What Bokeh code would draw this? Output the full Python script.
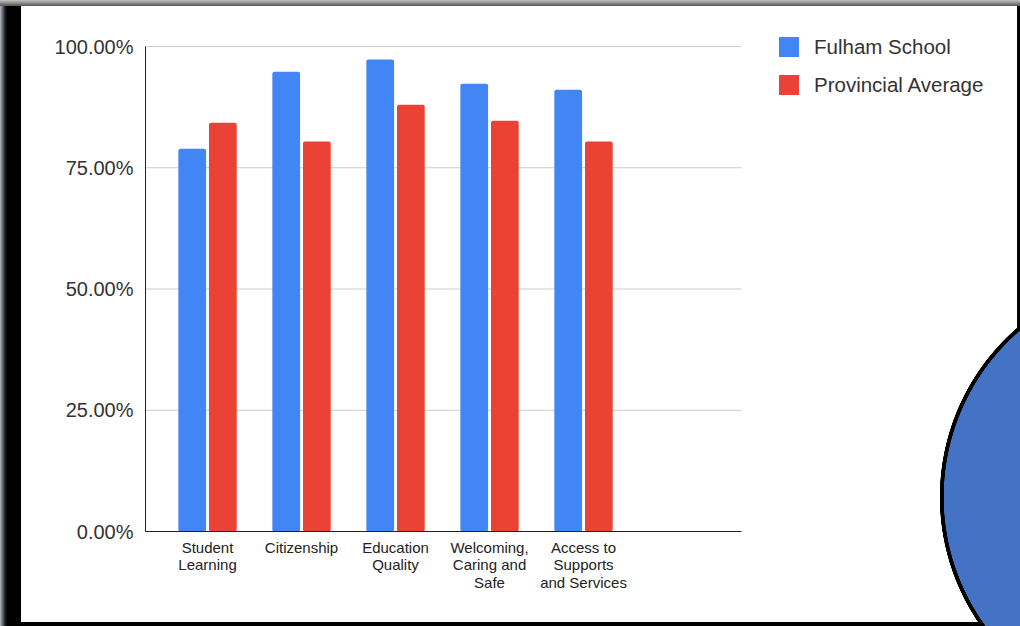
from bokeh.plotting import figure
from bokeh.models import (ColumnDataSource, FixedTicker, Legend, LegendItem, Range1d)
from bokeh.embed import file_html
from bokeh.resources import INLINE

# ---- data ----
categories = ["Student\nLearning", "Citizenship", "Education\nQuality",
              "Welcoming,\nCaring and\nSafe", "Access to\nSupports\nand Services"]
fulham_school = [78.9, 94.8, 97.3, 92.3, 91.1]
provincial_average = [84.3, 80.4, 88.0, 84.7, 80.4]
y_ticks = [0, 25, 50, 75, 100]
y_tick_labels = ["0.00%", "25.00%", "50.00%", "75.00%", "100.00%"]
series_names = ["Fulham School", "Provincial Average"]

BLUE = "#4285F4"
RED = "#EA4335"
FONT = "Liberation Sans"

W, H = 1020, 626
FL, FR, FT, FB = 145, 1017, 20, 531      # frame edges on canvas
PX_X = 94.0                               # pixels per category step
PX_Y = 4.85                               # pixels per percentage point
X0 = -0.66                                # left end of the category axis
X_AXIS_END = 5.68                         # right end of the drawn axis / grid
x_end = X0 + (FR - FL) / PX_X
y_end = 100 + (FB - FT - 100 * PX_Y) / PX_Y

xs = list(range(len(categories)))
src = ColumnDataSource(dict(
    xb=[x - 0.163 for x in xs], xr=[x + 0.163 for x in xs],
    fs=fulham_school, pa=provincial_average))

# slide decorations behind the transparent canvas (pure CSS background)
slide_bg = ", ".join([
    "radial-gradient(circle 224px at 1163.5px 497px, #4472C4 0px, #4472C4 219.5px, "
    "#000 220px, #000 223.5px, rgba(0,0,0,0) 224px) no-repeat",
    "linear-gradient(to bottom, #c4c4c4 0px, #555555 6px, rgba(0,0,0,0) 6px) no-repeat",
    "linear-gradient(to right, #b4b8c0 0px, #202226 5px, #000 7px, #000 21px, rgba(0,0,0,0) 21px) no-repeat",
    "linear-gradient(to left, #000 3px, rgba(0,0,0,0) 3px) no-repeat",
    "linear-gradient(to top, #000 4px, rgba(0,0,0,0) 4px) no-repeat",
    "#ffffff",
])

p = figure(width=W, height=H, output_backend="svg", toolbar_location=None,
           x_range=Range1d(X0, x_end), y_range=Range1d(0, y_end),
           min_border_left=FL, min_border_right=W - FR,
           min_border_top=FT, min_border_bottom=H - FB,
           styles={"background": slide_bg})
p.background_fill_color = None
p.border_fill_color = None
p.outline_line_color = None

# horizontal gridlines (stop where the category axis stops)
grid_ticks = y_ticks[1:]
p.segment(x0=[X0] * len(grid_ticks), x1=[X_AXIS_END] * len(grid_ticks),
          y0=grid_ticks, y1=grid_ticks, line_color="#cccccc", line_width=1)

rb = p.vbar(x="xb", top="fs", width=0.295, source=src, color=BLUE,
            line_color=None, border_radius=2)
rr = p.vbar(x="xr", top="pa", width=0.295, source=src, color=RED,
            line_color=None, border_radius=2)

# axes
p.xaxis.bounds = (X0, X_AXIS_END)
p.xaxis.ticker = FixedTicker(ticks=xs)
p.xaxis.major_label_overrides = {i: c for i, c in enumerate(categories)}
p.xaxis.major_tick_line_color = None
p.xaxis.minor_tick_line_color = None
p.xaxis.axis_line_color = "#222222"
p.xaxis.major_label_text_font = FONT
p.xaxis.major_label_text_font_size = "15px"
p.xaxis.major_label_text_line_height = 1.05
p.xaxis.major_label_text_color = "#222222"
p.xaxis.major_label_standoff = 1

p.yaxis.bounds = (0, 100)
p.yaxis.ticker = FixedTicker(ticks=y_ticks)
p.yaxis.major_label_overrides = {t: l for t, l in zip(y_ticks, y_tick_labels)}
p.yaxis.major_tick_line_color = None
p.yaxis.minor_tick_line_color = None
p.yaxis.axis_line_color = "#222222"
p.yaxis.major_label_text_font = FONT
p.yaxis.major_label_text_font_size = "20px"
p.yaxis.major_label_text_color = "#333333"
p.yaxis.major_label_standoff = 6

p.xgrid.grid_line_color = None
p.ygrid.grid_line_color = None

# legend (inside the widened frame, to the right of the bars)
legend = Legend(items=[LegendItem(label=series_names[0], renderers=[rb]),
                       LegendItem(label=series_names[1], renderers=[rr])],
                location=(776 - FL, FB - 97), orientation="vertical",
                padding=0, margin=0, spacing=13,
                glyph_width=25, glyph_height=25, label_height=25,
                label_standoff=13,
                label_text_font=FONT, label_text_font_size="20.5px",
                label_text_color="#333333",
                border_line_color=None, background_fill_alpha=0)
p.add_layout(legend)

open("out.html", "w").write(file_html(p, INLINE))
